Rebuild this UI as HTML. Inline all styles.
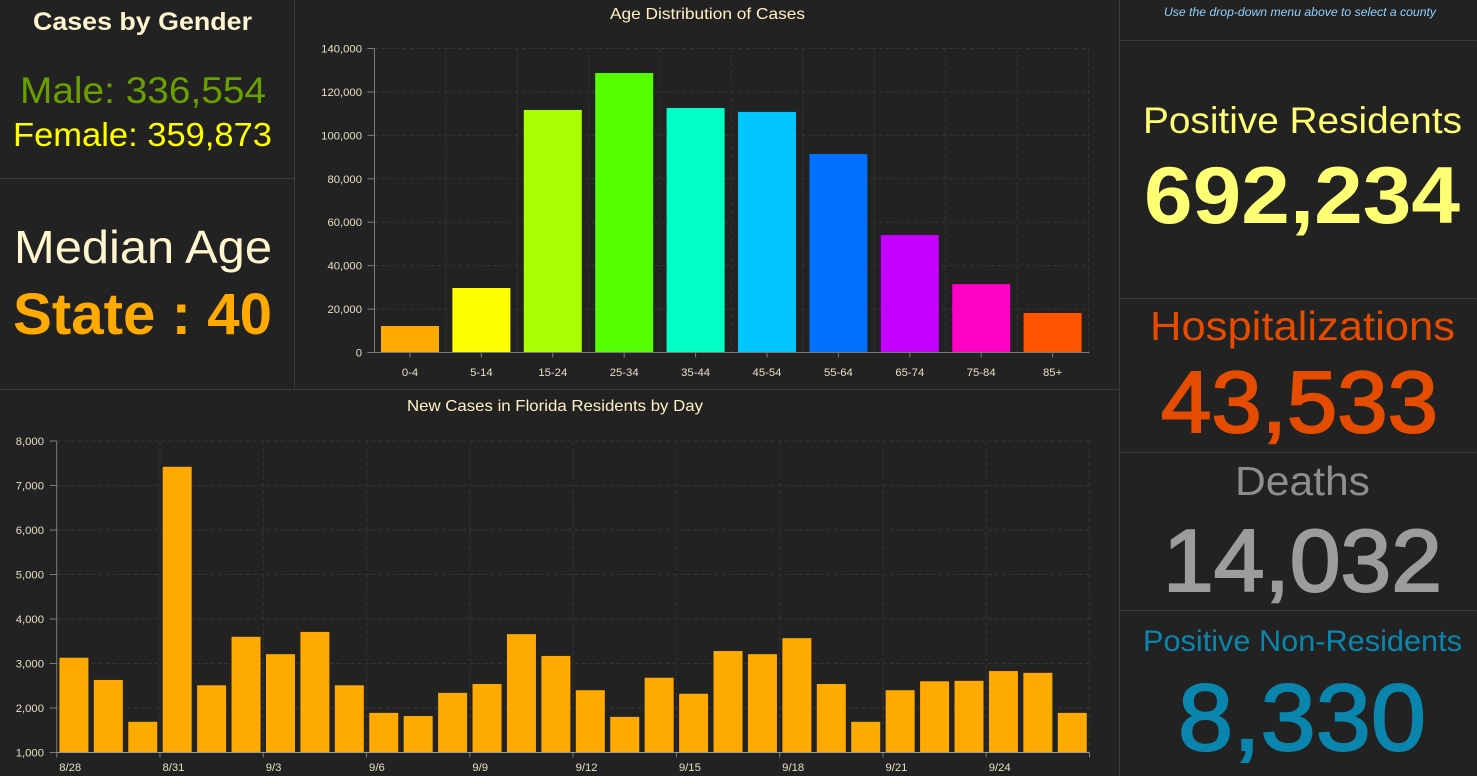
<!DOCTYPE html>
<html lang="en">
<head>
<meta charset="utf-8">
<title>Florida COVID-19 Dashboard</title>
<style>
html,body{margin:0;padding:0;background:#222222;}
body{width:1477px;height:776px;overflow:hidden;}
svg{display:block;font-family:"Liberation Sans",sans-serif;}
.tick{fill:#e6e0c4;font-size:11.3px;}
.title{fill:#fff3c4;font-size:16px;}
</style>
</head>
<body>
<svg id="dash" width="1477" height="776" viewBox="0 0 1477 776" xmlns="http://www.w3.org/2000/svg">
  <rect width="1477" height="776" fill="#222222"/>
  <g stroke="#3b3b3b" stroke-width="1">
    <line x1="294.5" y1="0" x2="294.5" y2="389"/>
    <line x1="0" y1="178.5" x2="294" y2="178.5"/>
    <line x1="0" y1="389.5" x2="1119" y2="389.5"/>
    <line x1="1119.5" y1="0" x2="1119.5" y2="776"/>
    <line x1="1120" y1="40.5" x2="1477" y2="40.5"/>
    <line x1="1120" y1="298.5" x2="1477" y2="298.5"/>
    <line x1="1120" y1="452.5" x2="1477" y2="452.5"/>
    <line x1="1120" y1="610.5" x2="1477" y2="610.5"/>
  </g>

  <text x="33" y="30" font-size="25" font-weight="700" fill="#fff6cf" textLength="219" lengthAdjust="spacingAndGlyphs">Cases by Gender</text>
  <text x="20" y="103" font-size="37" fill="#6a9f00" textLength="246" lengthAdjust="spacingAndGlyphs">Male: 336,554</text>
  <text x="13" y="146" font-size="33" fill="#ffff00" textLength="259" lengthAdjust="spacingAndGlyphs">Female: 359,873</text>
  <text x="14" y="263" font-size="46" fill="#fff6cf" textLength="258" lengthAdjust="spacingAndGlyphs">Median Age</text>
  <text x="13" y="334" font-size="58" font-weight="700" fill="#ffaa00" textLength="259" lengthAdjust="spacingAndGlyphs">State : 40</text>

  <text x="1164" y="16" font-size="11.5" font-style="italic" fill="#8fd2ff" textLength="272" lengthAdjust="spacingAndGlyphs">Use the drop-down menu above to select a county</text>
  <text x="1143" y="133" font-size="37" fill="#ffff73" textLength="319" lengthAdjust="spacingAndGlyphs">Positive Residents</text>
  <text x="1144" y="223" font-size="81" font-weight="700" fill="#ffff73" textLength="316" lengthAdjust="spacingAndGlyphs">692,234</text>
  <text x="1150" y="340" font-size="41" fill="#e64c00" textLength="305" lengthAdjust="spacingAndGlyphs">Hospitalizations</text>
  <text x="1161" y="432" font-size="87" fill="#e64c00" stroke="#e64c00" stroke-width="2" textLength="277" lengthAdjust="spacingAndGlyphs">43,533</text>
  <text x="1235" y="495" font-size="41" fill="#8e8e8e" textLength="135" lengthAdjust="spacingAndGlyphs">Deaths</text>
  <text x="1163" y="591" font-size="88" fill="#9c9c9c" stroke="#9c9c9c" stroke-width="2" textLength="279" lengthAdjust="spacingAndGlyphs">14,032</text>
  <text x="1143" y="651" font-size="30" fill="#0a85ad" textLength="319" lengthAdjust="spacingAndGlyphs">Positive Non-Residents</text>
  <text x="1178" y="750" font-size="95" fill="#0a85ad" stroke="#0a85ad" stroke-width="2" textLength="248" lengthAdjust="spacingAndGlyphs">8,330</text>

  <text class="title" x="610" y="19" textLength="195" lengthAdjust="spacingAndGlyphs">Age Distribution of Cases</text>
  <g id="age-chart"></g>
  <text class="title" x="407" y="411" textLength="296" lengthAdjust="spacingAndGlyphs">New Cases in Florida Residents by Day</text>
  <g id="daily-chart"></g>
</svg>

<script>
const ageCategories = ['0-4','5-14','15-24','25-34','35-44','45-54','55-64','65-74','75-84','85+'];
const ageValues = [12200,29700,111700,128700,112600,110800,91400,54100,31500,18200];
const ageColors = ['#ffaa00','#ffff00','#aaff00','#55ff00','#00ffc5','#00c5ff','#0070ff','#c500ff','#ff00c5','#ff5500'];
const ageTicks = [0,20000,40000,60000,80000,100000,120000,140000];

const dayCategories = ['8/28','8/29','8/30','8/31','9/1','9/2','9/3','9/4','9/5','9/6','9/7','9/8','9/9','9/10','9/11','9/12','9/13','9/14','9/15','9/16','9/17','9/18','9/19','9/20','9/21','9/22','9/23','9/24','9/25','9/26'];
const dayValues = [3130,2630,1690,7420,2510,3600,3210,3710,2510,1890,1820,2340,2540,3660,3170,2400,1800,2680,2320,3280,3210,3570,2540,1690,2400,2600,2610,2830,2790,1890];
const dayTicks = [1000,2000,3000,4000,5000,6000,7000,8000];

const NS = 'http://www.w3.org/2000/svg';
function mk(parent, tag, attrs, text) {
  const el = document.createElementNS(NS, tag);
  for (const k in attrs) el.setAttribute(k, attrs[k]);
  if (text !== undefined) el.textContent = text;
  parent.appendChild(el);
  return el;
}
function linearY(min, max, yBottom, yTop) {
  return function (v) { return yBottom - (v - min) / (max - min) * (yBottom - yTop); };
}
const GRID = '#353535';
const AXIS = '#7c7c7c';
const DASH = '4,3';

/* Age distribution chart */
(function () {
  const g = document.getElementById('age-chart');
  const x0 = 374.5, x1 = 1089.5, yB = 352.5, yT = 48.5;
  const y = linearY(ageTicks[0], ageTicks[ageTicks.length - 1], yB, yT);
  const band = 71.4;
  const barW = 58;

  ageTicks.forEach(function (t) {
    if (t !== ageTicks[0]) {
      const gl = mk(g, 'line', {x1: x0, x2: x1, y1: y(t), y2: y(t), stroke: GRID, 'stroke-dasharray': DASH});
      
      
    }
    const tm = mk(g, 'line', {x1: x0 - 7, x2: x0, y1: y(t), y2: y(t), stroke: AXIS});
    
    
    const lb = mk(g, 'text', {x: 362, y: y(t) + 4, 'text-anchor': 'end', 'class': 'tick'}, t.toLocaleString('en-US'));
    
    
  });

  ageCategories.forEach(function (c, i) {
    const gx = x0 + band * (i + 1);
    const gl = mk(g, 'line', {x1: gx, x2: gx, y1: yT, y2: yB, stroke: GRID, 'stroke-dasharray': DASH});
    
    
  });

  ageCategories.forEach(function (c, i) {
    const cx = x0 + band * (i + 0.5) - 0.2;
    const bar = mk(g, 'rect', {x: cx - barW / 2, y: y(ageValues[i]), width: barW, height: yB - y(ageValues[i]), fill: ageColors[i]});
    
    
    const tm = mk(g, 'line', {x1: cx, x2: cx, y1: yB, y2: yB + 5, stroke: AXIS});
    
    
    const lb = mk(g, 'text', {x: cx, y: 376, 'text-anchor': 'middle', 'class': 'tick'}, c);
    
    
  });

  const ya = mk(g, 'line', {x1: x0, x2: x0, y1: yT, y2: yB, stroke: AXIS});
  
  
  const xa = mk(g, 'line', {x1: x0, x2: x1, y1: yB, y2: yB, stroke: AXIS});
  
  
})();

/* Daily new cases chart */
(function () {
  const g = document.getElementById('daily-chart');
  const x0 = 56.7, x1 = 1089.5, yB = 752.5, yT = 441;
  const y = linearY(dayTicks[0], dayTicks[dayTicks.length - 1], yB, yT);
  const band = (x1 - x0) / dayCategories.length;
  const barW = 29;

  dayTicks.forEach(function (t) {
    if (t !== dayTicks[0]) {
      const gl = mk(g, 'line', {x1: x0, x2: x1, y1: y(t), y2: y(t), stroke: GRID, 'stroke-dasharray': DASH});
      
      
    }
    const tm = mk(g, 'line', {x1: x0 - 7, x2: x0, y1: y(t), y2: y(t), stroke: AXIS});
    
    
    const lb = mk(g, 'text', {x: 44, y: y(t) + 4, 'text-anchor': 'end', 'class': 'tick'}, t.toLocaleString('en-US'));
    
    
  });

  for (let i = 0; i <= dayCategories.length; i += 3) {
    const tx = x0 + band * i;
    if (i > 0) {
      const gl = mk(g, 'line', {x1: tx, x2: tx, y1: yT, y2: yB, stroke: GRID, 'stroke-dasharray': DASH});
      
      
    }
    const tm = mk(g, 'line', {x1: tx, x2: tx, y1: yB, y2: yB + 5, stroke: AXIS});
    
    
    if (i < dayCategories.length - 1) {
      const lb = mk(g, 'text', {x: tx + 2.5, y: 771, 'class': 'tick'}, dayCategories[i]);
      
      
    }
  }

  dayCategories.forEach(function (c, i) {
    const cx = x0 + band * (i + 0.5);
    const bar = mk(g, 'rect', {x: cx - barW / 2, y: y(dayValues[i]), width: barW, height: yB - y(dayValues[i]), fill: '#ffaa00'});
    
    
  });

  const ya = mk(g, 'line', {x1: x0, x2: x0, y1: yT, y2: yB, stroke: AXIS});
  
  
  const xa = mk(g, 'line', {x1: x0, x2: x1, y1: yB, y2: yB, stroke: '#999999'});
  
  
})();
</script>
</body>
</html>
